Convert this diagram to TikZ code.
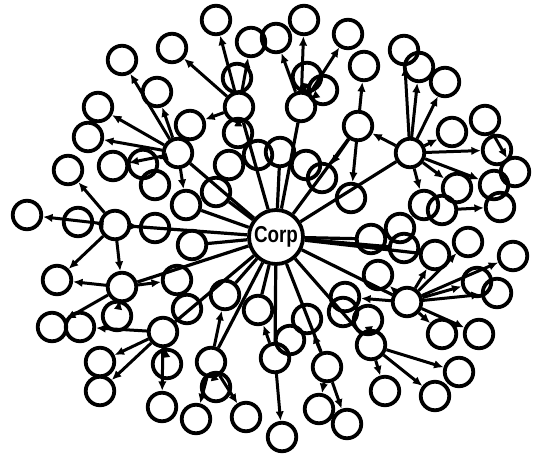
\documentclass[tikz,border=0pt]{standalone}
\usepackage{fontspec}
\usepackage{graphicx}
\setsansfont{Liberation Sans}
\usetikzlibrary{arrows.meta}
\begin{document}
\begin{tikzpicture}[x=1pt,y=-1pt,
 leaf/.style={circle,draw,line width=3.8pt,inner sep=0pt,minimum size=28.5pt},
 hub/.style={leaf},
 corp/.style={circle,draw,fill=white,line width=3.8pt,inner sep=0pt,minimum size=54pt,font=\sffamily\bfseries},
 arr/.style={line width=3pt,-{Latex[length=9.5pt,width=8.5pt]}},
 spoke/.style={line width=3.2pt}]
\useasboundingbox (0,0) rectangle (536,464);
% hubs
\foreach \n/\x/\y in {hA/239/107,hB/301/107,hC/358/126,hD/410/153,hE/178/153,hF/115/225,
  hG/122/287,hH/163/332,hI/211/362,hJ/275/358,hK/407/302,hL/371/345,hM/327/367}
  \node[hub] (\n) at (\x,\y) {};
% leaves
\foreach \n/\x/\y in {a1/216/20,a2/251/42,a3/276/38,a4/304/20,a5/348/34,a6/364/66,a7/404/50,
  a8/419/67,a9/445/82,a10/172/48,a11/122/60,a12/237/78,a13/307/77,a14/323/90,a15/157/92,
  a16/98/107,a17/88/137,a18/190/125,a19/238/133,a20/485/120,a21/452/132,a22/497/150,
  a23/515/172,a24/494/185,a25/500/207,a26/68/170,a27/113/166,a28/143/164,a29/27/215,
  a30/78/222,a31/155/228,
  b1/216/192,b2/186/205,b3/229/165,b4/258/155,b5/280/152,b6/306/165,b7/322/178,b8/351/198,
  b9/192/245,b10/177/280,b11/187/309,b12/225/295,b13/258/310,b15/307/319,b16/345/297,
  b17/368/320,b18/378/275,b19/371/239,b20/404/248,b21/435/255,
  c1/457/188,c2/424/205,c3/442/210,c4/468/242,c5/513/256,c6/477/282,c7/497/293,c8/442/334,
  c9/479/334,c10/459/372,c11/435/396,c12/385/391,
  d1/319/409,d2/347/424,d3/282/437,d4/246/417,d5/216/387,d6/196/419,d7/167/364,d8/162/407,
  d9/100/362,d10/100/391,d11/52/327,d12/80/327,d13/117/316,d14/57/280,
  e1/155/185,e2/343/312,e3/290/340,e4/400/228}
  \node[leaf] (\n) at (\x,\y) {};
% Corp
\node[corp] (corp) at (276,237) {\scalebox{0.82}[1]{\fontsize{23}{23}\selectfont Corp}};
% spokes
\foreach \t in {hA,hB,hC,hD,hE,hF,hG,hH,hI,hJ,hK,hL,hM,b1,b9,b19,b20,b12,b5,b21,b13,b2}
  \draw[spoke] (corp) -- (\t);
% arrows from hubs
\foreach \s/\t in {hA/a1,hA/a2,hA/a10,hA/a18,hA/a19,
  hB/a3,hB/a4,hB/a5,hB/a13,hB/a14,
  hC/a6,hC/b7,hC/b8,
  hD/a7,hD/a8,hD/a9,hD/a21,hD/a22,hD/hC,hD/c1,hD/c2,hD/a24,
  hE/a11,hE/a15,hE/a16,hE/a17,hE/a27,hE/a28,hE/b2,
  hF/a26,hF/a29,hF/a30,hF/a31,hF/hG,hF/d14,
  hG/d13,hG/d14,hG/d11,hG/b10,
  hH/d9,hH/d10,hH/d7,hH/d8,hH/d12,
  hI/d5,hI/d6,hI/d4,hI/b12,
  hJ/d3,hJ/b13,
  hM/d1,hM/d2,hM/b15,
  hL/c12,hL/c11,hL/c10,hL/b17,
  hK/c6,hK/c7,hK/c8,hK/c9,hK/c4,hK/b21,hK/b18,hK/c5,hK/b16,c3/a25,a20/a23}
  \draw[arr] (\s) -- (\t);
\end{tikzpicture}
\end{document}
